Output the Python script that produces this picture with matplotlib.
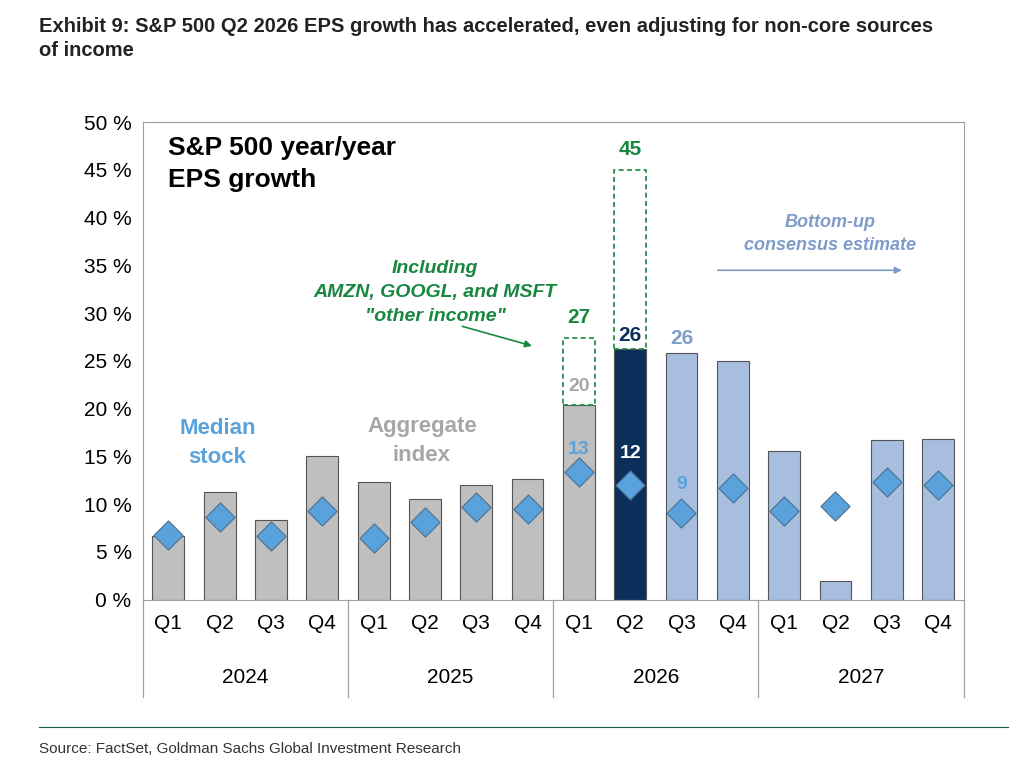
import matplotlib
matplotlib.use("Agg")
import matplotlib.pyplot as plt
from matplotlib.patches import Rectangle

quarters = ["Q1","Q2","Q3","Q4"]*4
years = ["2024","2025","2026","2027"]
aggregate = [6.7,11.3,8.3,15.0, 12.3,10.6,12.0,12.6, 20.4,26.3,25.8,25.0, 15.6,2.0,16.7,16.8]
median = [6.8,8.7,6.7,9.3, 6.5,8.1,9.7,9.5, 13.4,12.0,9.1,11.7, 9.3,9.8,12.3,12.0]
including = {8:27.4, 9:45.0}

plt.rcParams['font.family'] = ['Liberation Sans','DejaVu Sans']
fig = plt.figure(figsize=(10.34,7.64), dpi=100)
ax = fig.add_axes([0.138,0.215,0.794,0.625])
gray, navy, lblue, dia, green = "#bfbfbf","#0b2f5b","#a8bedf","#5aa2db","#17873f"
cols = [gray]*9 + [navy] + [lblue]*6
x = list(range(16))
ax.bar(x, aggregate, width=0.62, color=cols, edgecolor="#555555", linewidth=0.8, zorder=2)
for i, v in including.items():
    ax.add_patch(Rectangle((i-0.31, aggregate[i]), 0.62, v-aggregate[i], fill=False,
                           edgecolor=green, linestyle=(0,(3,2)), linewidth=1.2, zorder=3))
    ax.text(i, v+1.2, f"{v:.0f}", color=green, ha="center", va="bottom", fontsize=15, fontweight="bold")
ax.scatter(x, median, marker="D", s=220, color=dia, edgecolor="#4a6f91", linewidth=0.8, zorder=4)
ax.text(8, 20.4+1.0, "20", color="#a6a6a6", ha="center", va="bottom", fontsize=14, fontweight="bold")
ax.text(9, 26.3+0.4, "26", color=navy, ha="center", va="bottom", fontsize=15, fontweight="bold")
ax.text(10, 25.8+0.6, "26", color="#7f9cc9", ha="center", va="bottom", fontsize=15, fontweight="bold")
ax.text(8, 14.8, "13", color=dia, ha="center", va="bottom", fontsize=14, fontweight="bold")
ax.text(9, 14.4, "12", color="white", ha="center", va="bottom", fontsize=14, fontweight="bold")
ax.text(10, 11.2, "9", color=dia, ha="center", va="bottom", fontsize=14, fontweight="bold")

ax.text(0.0, 48.6, "S&P 500 year/year\nEPS growth", fontsize=19, fontweight="bold", va="top", ha="left", linespacing=1.45)
ax.text(0.96, 16.4, "Median\nstock", color=dia, fontsize=16, fontweight="bold", ha="center", va="center", linespacing=1.5)
ax.text(4.94, 16.6, "Aggregate\nindex", color="#a6a6a6", fontsize=16, fontweight="bold", ha="center", va="center", linespacing=1.5)
ax.text(5.2, 32.2, 'Including\nAMZN, GOOGL, and MSFT\n"other income"', color=green, fontsize=14,
        fontstyle="italic", fontweight="bold", ha="center", va="center", linespacing=1.55)
ax.annotate("", xy=(7.14, 26.5), xytext=(5.68, 28.7),
            arrowprops=dict(arrowstyle="-|>", color=green, lw=1.2))
ax.text(12.9, 38.3, "Bottom-up\nconsensus estimate", color="#7f9cc9", fontsize=13, fontstyle="italic",
        fontweight="bold", ha="center", va="center", linespacing=1.5)
ax.annotate("", xy=(14.35, 34.5), xytext=(10.65, 34.5),
            arrowprops=dict(arrowstyle="-|>", color="#7f9cc9", lw=1.2))

ax.set_xlim(-0.5, 15.5)
ax.set_ylim(0, 50)
ax.set_yticks(range(0, 51, 5))
ax.set_yticklabels([f"{v} %" for v in range(0, 51, 5)], fontsize=15)
ax.set_xticks(x)
ax.set_xticklabels(quarters, fontsize=15)
ax.tick_params(axis="x", length=0, pad=10)
ax.tick_params(axis="y", length=0, pad=8)
for s in ax.spines.values():
    s.set_color("#a0a0a0")
for b in [-0.5, 3.5, 7.5, 11.5, 15.5]:
    ax.plot([b, b], [0, -10.2], color="#a0a0a0", lw=0.9, clip_on=False)
for k, yr in enumerate(years):
    ax.text(4*k+1.5, -8.1, yr, fontsize=15, ha="center", va="center")

fig.text(0.038, 0.978, "Exhibit 9: S&P 500 Q2 2026 EPS growth has accelerated, even adjusting for non-core sources\nof income",
         fontsize=14.5, fontweight="bold", va="top", ha="left", color="#222222", linespacing=1.35)
fig.add_artist(plt.Line2D([0.038, 0.975], [0.048, 0.048], color="#1a5a4a", lw=0.8))
fig.text(0.038, 0.02, "Source: FactSet, Goldman Sachs Global Investment Research", fontsize=11, va="center", color="#333333")
fig.savefig("out.png", dpi=100)
